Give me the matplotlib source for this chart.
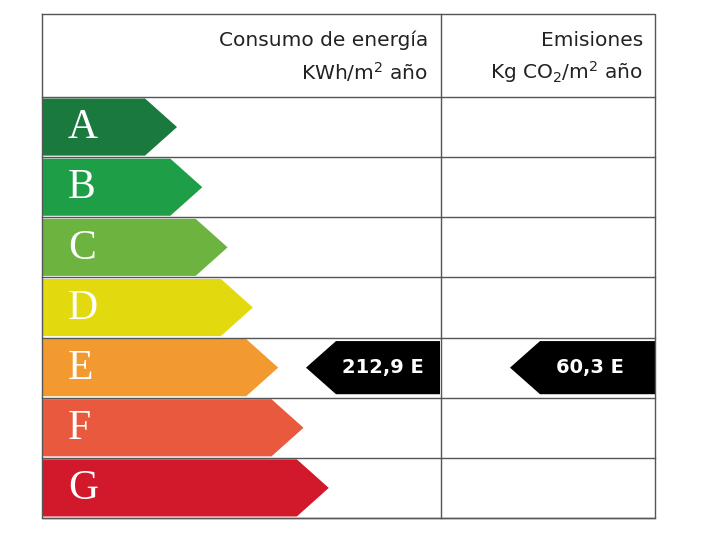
import matplotlib
matplotlib.use("Agg")
import matplotlib.pyplot as plt
from matplotlib.patches import Polygon

letters = ["A", "B", "C", "D", "E", "F", "G"]
colors = ["#1a7a3e", "#1f9e48", "#6cb43f", "#e2d90f", "#f29a30", "#e8593d", "#d2182b"]
energy_value = "212,9 E"
emission_value = "60,3 E"
current = "E"

fig = plt.figure(figsize=(7.02, 5.5), dpi=100)
ax = fig.add_axes([0, 0, 1, 1])
ax.set_xlim(0, 702)
ax.set_ylim(550, 0)
ax.axis("off")

L, R, MID, T, H = 42, 655, 441, 14, 97
rowh = (518 - H) / len(letters)
lw = 1.0
ax.plot([L, R, R, L, L], [T, T, 518, 518, T], color="#555", lw=lw)
ax.plot([MID, MID], [T, 518], color="#555", lw=lw)
for i in range(len(letters) + 1):
    y = H + i * rowh
    ax.plot([L, R], [y, y], color="#555", lw=lw)

ax.text(428, 40, "Consumo de energía", ha="right", va="center", fontsize=14.5, color="#222")
ax.text(428, 72, "KWh/m$^2$ año", ha="right", va="center", fontsize=14.5, color="#222")
ax.text(643, 40, "Emisiones", ha="right", va="center", fontsize=14.5, color="#222")
ax.text(643, 72, "Kg CO$_2$/m$^2$ año", ha="right", va="center", fontsize=14.5, color="#222")

for i, (let, c) in enumerate(zip(letters, colors)):
    y0 = H + i * rowh + 1.5
    y1 = H + (i + 1) * rowh - 1.5
    ym = (y0 + y1) / 2
    body = 145 + i * 25.3
    tip = body + 32
    ax.add_patch(Polygon([(L + 1, y0), (body, y0), (tip, ym), (body, y1), (L + 1, y1)],
                         closed=True, color=c, lw=0))
    ax.text(68, ym + 1, let, ha="left", va="center", fontsize=30, color="white",
            family="Liberation Serif")
    if let == current:
        for tipx, right, val, tx in [(306, MID - 1, energy_value, 383), (510, R, emission_value, 590)]:
            ax.add_patch(Polygon([(tipx, ym), (tipx + 30, y0 + 2), (right, y0 + 2), (right, y1 - 2),
                                  (tipx + 30, y1 - 2)], closed=True, color="black", lw=0))
            ax.text(tx, ym, val, ha="center", va="center", fontsize=14, color="white",
                    fontweight="bold")

fig.savefig("out.png", dpi=100, facecolor="white")
